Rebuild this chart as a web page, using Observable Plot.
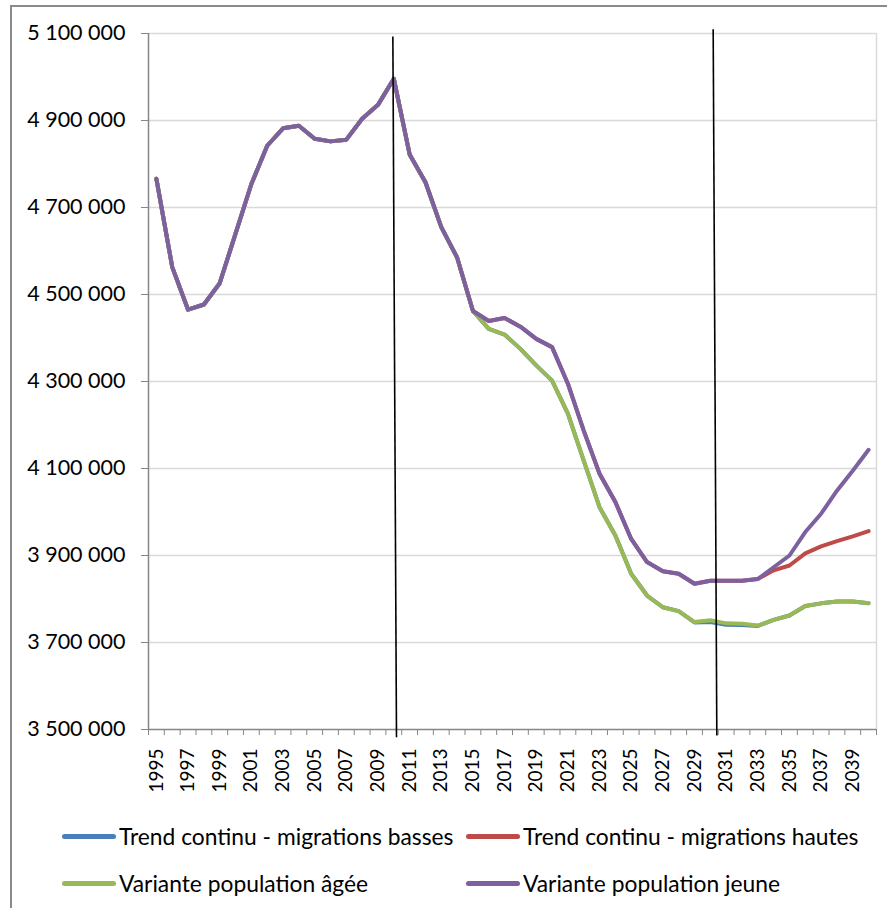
<!DOCTYPE html>
<html>
<head>
<meta charset="utf-8">
<script src="https://cdn.jsdelivr.net/npm/d3@7"></script>
<script src="https://cdn.jsdelivr.net/npm/@observablehq/plot@0.6"></script>
<style>
  html, body { margin: 0; padding: 0; background: #fff; }
  body { width: 887px; height: 908px; position: relative; overflow: hidden; font-family: Lato, sans-serif; }
  #frame { position: absolute; left: 10px; top: 5px; width: 900px; height: 920px;
           border-left: 2px solid #8a8a8a; border-top: 2px solid #8a8a8a; }
  #chart { position: absolute; left: 0; top: 0; }
  .leg { position: absolute; display: flex; align-items: center; font-size: 22.8px; color: #000; white-space: nowrap; }
  .sw { display: inline-block; width: 54px; height: 5px; border-radius: 3px; margin-right: 3px; }
</style>
</head>
<body>
<div id="frame"></div>
<div id="chart"></div>
<div id="legend"></div>
<script>
// ---- Data ----
const years = [1995,1996,1997,1998,1999,2000,2001,2002,2003,2004,2005,2006,2007,2008,2009,2010,
  2011,2012,2013,2014,2015,2016,2017,2018,2019,2020,2021,2022,2023,2024,2025,2026,2027,2028,2029,2030,
  2031,2032,2033,2034,2035,2036,2037,2038,2039,2040];

const seriesNames = ["Trend continu - migrations basses", "Trend continu - migrations hautes",
  "Variante population âgée", "Variante population jeune"];
const seriesColors = ["#4A7EBB", "#BE4B48", "#98B954", "#7D60A0"];

const trendBasses = [4766000,4563000,4465000,4477000,4526000,4640000,4754000,4842000,4882000,4888000,
  4858000,4852000,4856000,4904000,4936000,4996000,4822000,4758000,4655000,4585000,
  4462000,4421000,4408000,4375000,4337000,4302000,4226000,4118000,4011000,3946000,
  3858000,3808000,3781000,3772000,3746000,3747000,3741000,3740000,3738000,3752000,
  3762000,3784000,3790000,3794000,3794000,3790000];

const trendHautes = [4766000,4563000,4465000,4477000,4526000,4640000,4754000,4842000,4882000,4888000,
  4858000,4852000,4856000,4904000,4936000,4996000,4822000,4758000,4655000,4585000,
  4462000,4439000,4446000,4426000,4398000,4379000,4295000,4187000,4088000,4023000,
  3938000,3885000,3864000,3858000,3835000,3842000,3842000,3842000,3846000,3866000,
  3877000,3905000,3921000,3933000,3944000,3956000];

const varianteAgee = [4766000,4563000,4465000,4477000,4526000,4640000,4754000,4842000,4882000,4888000,
  4858000,4852000,4856000,4904000,4936000,4996000,4822000,4758000,4655000,4585000,
  4462000,4421000,4408000,4375000,4337000,4302000,4226000,4118000,4011000,3946000,
  3858000,3808000,3781000,3772000,3747000,3751000,3744000,3743000,3739000,3752000,
  3762000,3784000,3790000,3794000,3794000,3790000];

const varianteJeune = [4766000,4563000,4465000,4477000,4526000,4640000,4754000,4842000,4882000,4888000,
  4858000,4852000,4856000,4904000,4936000,4996000,4822000,4758000,4655000,4585000,
  4462000,4439000,4446000,4426000,4398000,4379000,4295000,4187000,4088000,4023000,
  3938000,3885000,3864000,3858000,3835000,3842000,3842000,3842000,3846000,3873000,
  3900000,3954000,3996000,4049000,4095000,4143000];

const yTicks = [3500000,3700000,3900000,4100000,4300000,4500000,4700000,4900000,5100000];
const xTickLabels = [1995,1997,1999,2001,2003,2005,2007,2009,2011,2013,2015,2017,2019,2021,2023,
  2025,2027,2029,2031,2033,2035,2037,2039];

// hand-drawn vertical marker lines (year, value at each end)
const markerX1 = [2009.94, 2030.18];
const markerY1 = [5093000, 5110000];
const markerX2 = [2010.17, 2030.41];
const markerY2 = [3482000, 3486000];

// ---- Build ----
const allSeries = [trendBasses, trendHautes, varianteAgee, varianteJeune];
const rows = [];
allSeries.forEach((vals, s) => years.forEach((yr, i) => rows.push({series: seriesNames[s], year: yr, value: vals[i]})));
const bounds = years.map(y => y - 0.5).concat([years[years.length - 1] + 0.5]);
const markers = markerX1.map((d, i) => ({x1: d, y1: markerY1[i], x2: markerX2[i], y2: markerY2[i]}));
const fmt = d => d3.format(",")(d).replace(/,/g, "\u00a0");

const plot = Plot.plot({
  width: 887,
  height: 805,
  marginLeft: 148,
  marginRight: 11,
  marginTop: 33,
  marginBottom: 76,
  x: {domain: [bounds[0], bounds[bounds.length - 1]]},
  y: {domain: [yTicks[0], yTicks[yTicks.length - 1]]},
  style: {fontFamily: "Lato, sans-serif", color: "#000", background: "transparent"},
  marks: [
    Plot.ruleY(yTicks.slice(1), {stroke: "#d9d9d9", strokeWidth: 1.5}),
    Plot.ruleX([bounds[bounds.length - 1]], {stroke: "#d9d9d9", strokeWidth: 1.5}),
    Plot.ruleX([bounds[0]], {stroke: "#868686", strokeWidth: 1.5}),
    Plot.ruleY([yTicks[0]], {stroke: "#868686", strokeWidth: 1.5}),
    Plot.axisY({ticks: yTicks, tickFormat: fmt, tickSize: 7, tickPadding: 16, stroke: "#868686",
      fill: "#000", fontSize: 21.5, label: null}),
    Plot.axisX({ticks: bounds, tickSize: 6, stroke: "#868686", fill: "none", label: null}),
    Plot.axisX({ticks: xTickLabels, tickSize: 0, tickRotate: -90, tickPadding: 19, tickFormat: d => `${d}`,
      fill: "#000", fontSize: 19, label: null}),
    ...seriesNames.map((name, s) => Plot.line(rows.filter(r => r.series === name), {
      x: "year", y: "value", stroke: seriesColors[s], strokeWidth: 4,
      strokeLinejoin: "round", strokeLinecap: "round"
    })),
    Plot.link(markers, {x1: "x1", y1: "y1", x2: "x2", y2: "y2", stroke: "#000", strokeWidth: 1.6})
  ]
});
document.getElementById("chart").appendChild(plot);

// ---- Legend ----
const legendPos = [[62, 836], [466, 836], [62, 883], [466, 883]];
const legend = document.getElementById("legend");
seriesNames.forEach((name, s) => {
  const item = document.createElement("div");
  item.className = "leg";
  item.style.left = legendPos[s][0] + "px";
  item.style.top = (legendPos[s][1] - 14) + "px";
  item.style.height = "28px";
  const sw = document.createElement("span");
  sw.className = "sw";
  sw.style.background = seriesColors[s];
  item.appendChild(sw);
  item.appendChild(document.createTextNode(name));
  legend.appendChild(item);
});
</script>
</body>
</html>
